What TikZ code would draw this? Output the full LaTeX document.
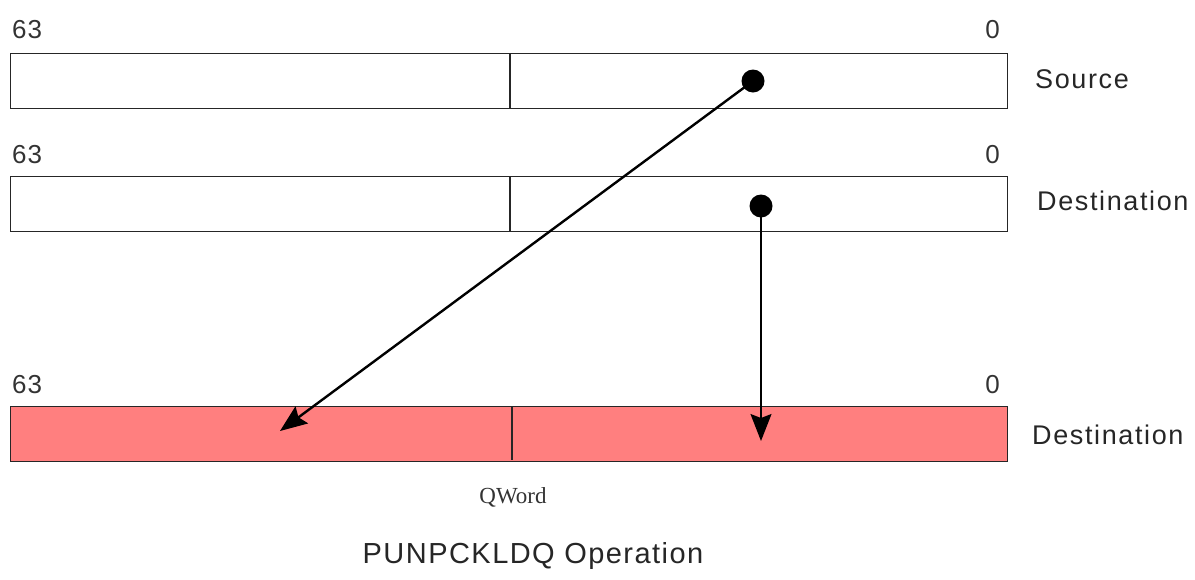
\documentclass[tikz,border=0pt]{standalone}
\usepackage{fontspec}
\setmainfont{Liberation Sans}
\newfontfamily\serifqw{Liberation Serif}
\usetikzlibrary{arrows.meta}
\definecolor{regfill}{HTML}{FF7F7F}
\tikzset{
  reg/.style={draw=black!85, line width=1.4pt, minimum width=997pt, minimum height=55pt,
              inner sep=0pt, anchor=north west},
  bitlbl/.style={font=\fontsize{26}{28}\selectfont\addfontfeatures{LetterSpace=4}, text=black!80, inner sep=0pt},
  namelbl/.style={font=\fontsize{27}{30}\selectfont\addfontfeatures{LetterSpace=6}, text=black!85, inner sep=0pt, anchor=west},
  srcdot/.style={circle, fill=black, inner sep=0pt, minimum size=23pt},
  mover/.style={-{Stealth[length=27pt, width=21pt, inset=4pt]}},
}
\begin{document}
\begin{tikzpicture}[x=1pt, y=-1pt]
  \useasboundingbox (0,0) rectangle (1195,579);

  % registers
  \node[reg] (src) at (10,53) {};
  \node[reg] (dst) at (10,176) {};
  \node[reg, fill=regfill] (res) at (10,406) {};

  % qword dividers
  \draw[black!85, line width=1.4pt] (510,53) -- (510,108);
  \draw[black!85, line width=1.4pt] (510,176) -- (510,231);
  \draw[black!85, line width=1.4pt] (512,406) -- (512,460);

  % bit numbers
  \node[bitlbl, anchor=west] (s63) at (12,30) {63};
  \node[bitlbl, anchor=east] (s0) at (1000,30) {0};
  \node[bitlbl, anchor=west] (d63) at (12,155) {63};
  \node[bitlbl, anchor=east] (d0) at (1000,155) {0};
  \node[bitlbl, anchor=west] (r63) at (12,385) {63};
  \node[bitlbl, anchor=east] (r0) at (1000,385) {0};

  % register names
  \node[namelbl] (srcname) at (1035,79) {Source};
  \node[namelbl] (dstname) at (1037,201) {Destination};
  \node[namelbl] (resname) at (1032,435) {Destination};

  % data movement
  \node[srcdot] (sdot) at (753,81) {};
  \node[srcdot] (ddot) at (761,206) {};
  \coordinate (hiq) at (280,431);
  \coordinate (loq) at (761,441);
  \draw[mover, line width=2.4pt] (sdot.center) -- (hiq);
  \draw[mover, line width=1.5pt] (ddot.center) -- (loq);

  % captions
  \node[font=\serifqw\fontsize{23}{25}\selectfont, text=black!80] (qw) at (513,497) {QWord};
  \node[font=\fontsize{29}{32}\selectfont\addfontfeatures{LetterSpace=5}, text=black!85] (title) at (533,556) {PUNPCKLDQ Operation};
\end{tikzpicture}
\end{document}
